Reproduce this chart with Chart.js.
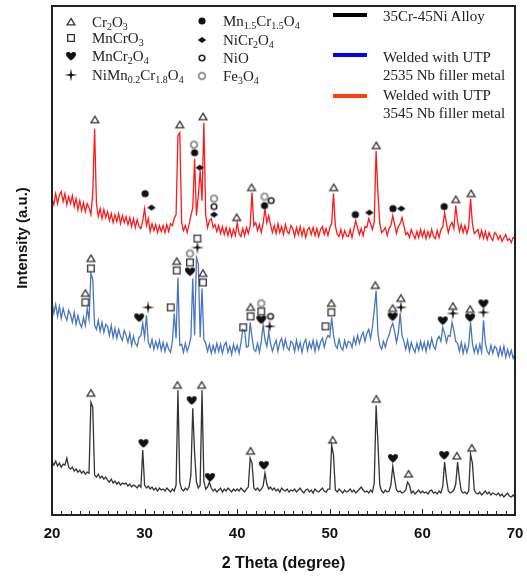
<!DOCTYPE html>
<html>
<head>
<meta charset="utf-8">
<title>XRD patterns</title>
<script src="https://cdn.jsdelivr.net/npm/chart.js@4.4.1/dist/chart.umd.min.js"></script>
<style>
  body { margin: 0; background: #fff; }
  #wrap { position: relative; width: 527px; height: 577px; }
  .lg { position: absolute; font: 15px "Liberation Serif", "Times New Roman", serif; color: #222; white-space: nowrap; line-height: 18px; }
  .lg sub { font-size: 10px; vertical-align: -3px; line-height: 0; }
  .sym { position: absolute; }
  .swatch { position: absolute; width: 34px; height: 4px; }
</style>
</head>
<body>
<div id="wrap">
  <canvas id="xrdChart" width="527" height="577"></canvas>
</div>
<script>
/*=============== DATA ===============*/
// scan grid: 20 to 70 deg, 0.2 deg step (251 points)
const scanStart = 20, scanStep = 0.2, scanPoints = 251
const theta = []
for (let i = 0; i < scanPoints; i++) theta.push(+(scanStart + i * scanStep).toFixed(1))

// 35Cr-45Ni Alloy (black), one row = 2 deg
const alloyCounts = [
  53, 50, 54, 49, 52, 48, 51, 50, 57, 48,        // 20
  46, 48, 44, 46, 43, 45, 42, 44, 41, 43,        // 22
  42, 113, 108, 40, 38, 41, 37, 39, 36, 38,      // 24
  35, 33, 36, 32, 34, 31, 33, 30, 32, 31,        // 26
  32, 29, 31, 28, 30, 29, 27, 30, 28, 65,        // 28
  30, 27, 29, 26, 28, 25, 27, 24, 27, 25,        // 30
  26, 24, 27, 25, 23, 26, 24, 30, 125, 33,       // 32
  26, 24, 27, 25, 28, 40, 107, 62, 33, 27,       // 34
  30, 125, 34, 26, 28, 33, 27, 24, 26, 23,       // 36
  25, 27, 23, 26, 24, 27, 25, 23, 26, 24,        // 38
  26, 24, 27, 25, 23, 26, 28, 57, 52, 27,        // 40
  25, 27, 24, 26, 29, 42, 31, 26, 28, 25,        // 42
  27, 24, 26, 23, 27, 25, 24, 26, 23, 25,        // 44
  24, 26, 23, 25, 27, 24, 22, 25, 26, 23,        // 46
  25, 22, 26, 24, 23, 25, 27, 24, 23, 26,        // 48
  26, 70, 60, 25, 23, 26, 24, 22, 25, 23,        // 50
  24, 26, 23, 25, 22, 24, 26, 28, 25, 23,        // 52
  24, 22, 25, 23, 32, 110, 72, 30, 24, 22,       // 54
  25, 23, 24, 30, 49, 36, 25, 23, 24, 22,        // 56
  23, 25, 33, 30, 22, 24, 21, 23, 25, 22,        // 58
  24, 22, 23, 21, 24, 25, 22, 23, 21, 24,        // 60
  22, 29, 53, 36, 24, 22, 23, 25, 31, 53,        // 62
  36, 24, 22, 23, 21, 24, 61, 52, 25, 22,        // 64
  21, 23, 20, 22, 24, 21, 23, 20, 22, 21,        // 66
  20, 22, 19, 21, 18, 20, 22, 19, 18, 20,        // 68
  18                                             // 70
]

// Welded with UTP 2535 Nb (blue)
const utp2535Counts = [
  214, 202, 211, 199, 209, 197, 207, 200, 195, 205,   // 20
  201, 193, 203, 191, 200, 192, 188, 198, 190, 207,   // 22
  196, 242, 236, 190, 186, 195, 184, 193, 183, 191,   // 24
  189, 180, 190, 178, 187, 177, 186, 179, 175, 185,   // 26
  180, 173, 182, 170, 179, 172, 169, 178, 180, 192,   // 28
  178, 200, 173, 168, 176, 166, 174, 167, 175, 165,   // 30
  173, 164, 172, 166, 163, 174, 202, 177, 238, 170,   // 32
  171, 163, 172, 164, 170, 178, 237, 180, 258, 252,   // 34
  178, 227, 176, 172, 164, 171, 162, 170, 163, 172,   // 36
  164, 171, 162, 170, 173, 163, 169, 161, 171, 164,   // 38
  170, 162, 172, 186, 185, 168, 169, 193, 178, 166,   // 40
  164, 172, 163, 174, 190, 176, 169, 183, 172, 164,   // 42
  170, 175, 164, 173, 177, 167, 176, 168, 165, 174,   // 44
  172, 164, 175, 166, 173, 163, 172, 176, 165, 173,   // 46
  167, 175, 164, 174, 166, 173, 177, 168, 176, 180,   // 48
  178, 198, 180, 170, 167, 176, 168, 165, 175, 168,   // 50
  174, 173, 168, 178, 171, 180, 172, 179, 183, 174,   // 52
  182, 186, 177, 188, 205, 225, 182, 170, 166, 174,   // 54
  168, 176, 180, 188, 192, 184, 173, 182, 202, 180,   // 56
  174, 166, 175, 164, 173, 167, 163, 172, 165, 174,   // 58
  166, 173, 164, 174, 167, 177, 169, 166, 176, 179,   // 60
  174, 188, 182, 173, 180, 179, 193, 185, 174, 172,   // 62
  164, 173, 162, 171, 163, 170, 193, 172, 163, 170,   // 64
  162, 171, 163, 195, 172, 164, 161, 170, 162, 169,   // 66
  167, 159, 168, 160, 169, 158, 166, 159, 165, 157,   // 68
  162                                                 // 70
]

// Welded with UTP 3545 Nb (red)
const utp3545Counts = [
  317, 311, 322, 312, 321, 324, 314, 322, 311, 319,   // 20
  312, 320, 309, 317, 306, 315, 305, 313, 304, 312,   // 22
  308, 301, 322, 387, 312, 299, 307, 297, 306, 298,   // 24
  304, 295, 302, 293, 301, 294, 302, 292, 300, 293,   // 26
  299, 291, 298, 289, 297, 288, 296, 289, 287, 295,   // 28
  307, 290, 297, 284, 292, 285, 291, 283, 290, 284,   // 30
  290, 283, 291, 284, 292, 290, 297, 301, 380, 383,   // 32
  293, 285, 290, 283, 291, 300, 308, 357, 300, 320,   // 34
  345, 315, 393, 300, 288, 295, 297, 288, 291, 284,   // 36
  290, 282, 289, 281, 288, 280, 287, 279, 286, 280,   // 38
  293, 282, 279, 287, 280, 288, 282, 290, 323, 290,   // 40
  293, 285, 291, 283, 292, 307, 293, 300, 291, 283,   // 42
  290, 282, 292, 283, 289, 281, 291, 284, 282, 290,   // 44
  287, 279, 288, 281, 289, 280, 287, 278, 286, 288,   // 46
  281, 288, 280, 287, 279, 286, 289, 281, 287, 280,   // 48
  288, 292, 322, 290, 281, 279, 286, 278, 285, 280,   // 50
  279, 286, 278, 287, 295, 288, 281, 287, 280, 289,   // 52
  288, 297, 292, 286, 294, 365, 322, 292, 283, 285,   // 54
  288, 280, 287, 290, 300, 291, 282, 289, 292, 298,   // 56
  290, 281, 283, 278, 286, 281, 277, 284, 278, 286,   // 58
  279, 285, 277, 284, 278, 286, 279, 277, 285, 278,   // 60
  286, 289, 303, 292, 283, 290, 293, 287, 310, 294,   // 62
  284, 291, 283, 290, 282, 289, 317, 292, 282, 284,   // 64
  286, 278, 285, 277, 284, 276, 283, 278, 275, 283,   // 66
  281, 276, 280, 274, 278, 281, 275, 277, 273, 278,   // 68
  277                                                 // 70
]

// phase labels: [2theta, level]
const cr2o3Marks = [
  [24.63, 396], [33.8, 391], [36.3, 399], [39.94, 298], [41.55, 328], [50.42, 328], [55.02, 370], [63.6, 316], [65.26, 322],
  [23.6, 222], [24.2, 257], [33.47, 254], [36.3, 242], [41.44, 208], [50.17, 212], [54.91, 230], [56.78, 207], [57.68, 217], [63.29, 209], [65.15, 206],
  [24.2, 122], [33.54, 130], [36.16, 130], [41.44, 64], [50.31, 75], [55.02, 116], [58.5, 41], [63.72, 59], [65.33, 67]
]
const mncro3Marks = [
  [23.6, 213], [24.2, 247], [32.82, 208], [33.47, 245], [34.9, 253], [35.7, 277], [36.3, 233], [40.65, 188], [41.44, 199], [42.6, 204], [49.53, 189], [50.17, 203]
]
const mncr2o4Marks = [
  [29.41, 198], [34.9, 244], [42.6, 196], [56.78, 199], [62.2, 195], [65.15, 198], [66.59, 212],
  [29.88, 72], [35.09, 115], [37.06, 38], [42.88, 50], [56.82, 57], [62.35, 60]
]
const nimncroMarks = [[30.38, 208], [35.7, 268], [43.5, 189], [57.68, 208], [63.29, 202], [66.59, 203]]
const mncro4Marks = [[30.05, 322], [35.4, 363], [42.95, 310], [52.76, 301], [56.82, 307], [62.35, 309]]
const nicr2o4Marks = [[30.74, 308], [35.95, 348], [37.5, 301], [54.27, 303], [57.72, 307]]
const nioMarks = [[37.5, 309], [43.67, 315], [43.6, 199]]
const fe3o4Marks = [[35.33, 371], [37.5, 317], [42.95, 319], [34.9, 262], [42.6, 212]]

/*=============== MARKER GLYPHS ===============*/
const makeMarker = (kind) => {
   const c = document.createElement('canvas')
   c.width = 16; c.height = 16
   const g = c.getContext('2d')
   g.translate(8, 8)
   g.beginPath()
   if (kind === 'tri') {
       g.strokeStyle = '#333'; g.lineWidth = 1.3
       g.moveTo(0, -3.6); g.lineTo(3.9, 2.9); g.lineTo(-3.9, 2.9); g.closePath(); g.stroke()
   } else if (kind === 'square') {
       g.strokeStyle = '#333'; g.lineWidth = 1.3
       g.rect(-3.3, -3.3, 6.6, 6.6); g.stroke()
   } else if (kind === 'heart') {
       g.fillStyle = '#111'
       g.moveTo(0, 4.6)
       g.bezierCurveTo(-3, 2.2, -5, 0.2, -5, -1.8)
       g.bezierCurveTo(-5, -4.2, -1.8, -4.8, 0, -2.4)
       g.bezierCurveTo(1.8, -4.8, 5, -4.2, 5, -1.8)
       g.bezierCurveTo(5, 0.2, 3, 2.2, 0, 4.6)
       g.fill()
   } else if (kind === 'star') {
       g.fillStyle = '#111'
       g.moveTo(0, -6.5); g.lineTo(1, -1); g.lineTo(6.5, 0); g.lineTo(1, 1)
       g.lineTo(0, 6.5); g.lineTo(-1, 1); g.lineTo(-6.5, 0); g.lineTo(-1, -1)
       g.closePath(); g.fill()
   } else if (kind === 'dot') {
       g.fillStyle = '#111'
       g.arc(0, 0, 3.6, 0, Math.PI * 2); g.fill()
   } else if (kind === 'diamond') {
       g.fillStyle = '#111'
       g.moveTo(-4.2, 0); g.lineTo(0, -3); g.lineTo(4.2, 0); g.lineTo(0, 3); g.closePath(); g.fill()
   } else if (kind === 'ring') {
       g.strokeStyle = '#222'; g.lineWidth = 1.6
       g.arc(0, 0, 2.8, 0, Math.PI * 2); g.stroke()
   } else if (kind === 'fe') {
       g.strokeStyle = '#999'; g.lineWidth = 2
       for (let k = 0; k < 8; k++) {
           const a = Math.PI / 8 + k * Math.PI / 4
           k === 0 ? g.moveTo(3.4 * Math.cos(a), 3.4 * Math.sin(a)) : g.lineTo(3.4 * Math.cos(a), 3.4 * Math.sin(a))
       }
       g.closePath(); g.stroke()
   }
   return c
}

/*=============== CHART ===============*/
const toXY = (xs, ys) => xs.map((t, i) => ({ x: t, y: ys[i] }))
const toPts = (list) => list.map(p => ({ x: p[0], y: p[1] }))

const trace = (label, counts, color) => ({
    type: 'line', label, data: toXY(theta, counts),
    borderColor: color, borderWidth: 1.3, pointRadius: 0, tension: 0, order: 2
})
const marks = (label, list, kind) => ({
    type: 'line', label, data: toPts(list), showLine: false,
    pointStyle: makeMarker(kind), pointRadius: 5, order: 1
})

// frame, inner ticks and y title
const framePlugin = {
    id: 'frame',
    afterDraw(chart) {
        const { ctx, chartArea: a, scales: { x } } = chart
        ctx.save()
        ctx.strokeStyle = '#222'
        ctx.lineWidth = 1
        for (let t = 20; t <= 70; t++) {
            const px = Math.round(x.getPixelForValue(t)) + 0.5
            ctx.beginPath(); ctx.moveTo(px, a.bottom); ctx.lineTo(px, a.bottom - (t % 10 === 0 ? 6 : 4)); ctx.stroke()
        }
        ctx.lineWidth = 2
        ctx.strokeRect(a.left, a.top, a.right - a.left, a.bottom - a.top)
        ctx.translate(23, 238)
        ctx.rotate(-Math.PI / 2)
        ctx.fillStyle = '#111'
        ctx.font = 'bold 15px "Liberation Sans", Arial, sans-serif'
        ctx.textAlign = 'center'; ctx.textBaseline = 'middle'
        ctx.fillText('Intensity (a.u.)', 0, 0)
        ctx.restore()
    }
}

new Chart(document.getElementById('xrdChart'), {
    type: 'line',
    data: {
        datasets: [
            marks('Cr2O3', cr2o3Marks, 'tri'),
            marks('MnCrO3', mncro3Marks, 'square'),
            marks('MnCr2O4', mncr2o4Marks, 'heart'),
            marks('NiMn0.2Cr1.8O4', nimncroMarks, 'star'),
            marks('Mn1.5Cr1.5O4', mncro4Marks, 'dot'),
            marks('NiCr2O4', nicr2o4Marks, 'diamond'),
            marks('NiO', nioMarks, 'ring'),
            marks('Fe3O4', fe3o4Marks, 'fe'),
            trace('Welded with UTP 3545 Nb filler metal', utp3545Counts, '#ff1a1a'),
            trace('Welded with UTP 2535 Nb filler metal', utp2535Counts, '#4a74c0'),
            trace('35Cr-45Ni Alloy', alloyCounts, '#333333')
        ]
    },
    options: {
        responsive: false,
        devicePixelRatio: 1,
        animation: false,
        layout: { padding: { top: 5, right: 12, left: 0, bottom: 0 } },
        plugins: { legend: { display: false }, tooltip: { enabled: false } },
        scales: {
            x: {
                type: 'linear', min: 20, max: 70,
                grid: { display: false, drawTicks: false },
                border: { display: false },
                ticks: { stepSize: 10, padding: 10, color: '#111', font: { family: '"Liberation Sans", Arial', size: 15, weight: 'bold' } },
                title: { display: true, text: '2 Theta (degree)', color: '#111', padding: { top: 4, bottom: 4 },
                         font: { family: '"Liberation Sans", Arial', size: 16, weight: 'bold' } },
                afterFit: (s) => { s.height = 62; s.paddingLeft = 0; s.paddingRight = 0 }
            },
            y: {
                min: 0, max: 510,
                grid: { display: false, drawTicks: false },
                border: { display: false },
                ticks: { display: false },
                afterFit: (s) => { s.width = 52 }
            }
        }
    },
    plugins: [framePlugin]
})

/*=============== LEGEND ===============*/
const wrap = document.getElementById('wrap')
const addText = (html, left, cy) => {
    const d = document.createElement('div')
    d.className = 'lg'
    d.style.left = left + 'px'
    d.style.top = (cy - 9) + 'px'
    d.innerHTML = html
    wrap.appendChild(d)
}
const addSym = (kind, cx, cy) => {
    const c = makeMarker(kind)
    c.className = 'sym'
    c.style.left = (cx - 8) + 'px'
    c.style.top = (cy - 8) + 'px'
    wrap.appendChild(c)
}
const addSwatch = (color, left, cy) => {
    const d = document.createElement('div')
    d.className = 'swatch'
    d.style.left = left + 'px'
    d.style.top = (cy - 2) + 'px'
    d.style.background = color
    wrap.appendChild(d)
}

addSym('tri', 71, 22);     addText('Cr<sub>2</sub>O<sub>3</sub>', 92, 22)
addSym('square', 71, 38);  addText('MnCrO<sub>3</sub>', 92, 38)
addSym('heart', 71, 56);   addText('MnCr<sub>2</sub>O<sub>4</sub>', 92, 56)
addSym('star', 71, 75);    addText('NiMn<sub>0.2</sub>Cr<sub>1.8</sub>O<sub>4</sub>', 92, 75)
addSym('dot', 202, 21);    addText('Mn<sub>1.5</sub>Cr<sub>1.5</sub>O<sub>4</sub>', 223, 21)
addSym('diamond', 202, 40); addText('NiCr<sub>2</sub>O<sub>4</sub>', 223, 40)
addSym('ring', 202, 58);   addText('NiO', 223, 58)
addSym('fe', 202, 76);     addText('Fe<sub>3</sub>O<sub>4</sub>', 223, 76)

addSwatch('#000000', 333, 15);  addText('35Cr-45Ni Alloy', 383, 16)
addSwatch('#0000ff', 333, 55);  addText('Welded with UTP', 383, 57)
addText('2535 Nb filler metal', 383, 75)
addSwatch('#ff3b10', 333, 96);  addText('Welded with UTP', 383, 95)
addText('3545 Nb filler metal', 383, 113)
</script>
</body>
</html>
